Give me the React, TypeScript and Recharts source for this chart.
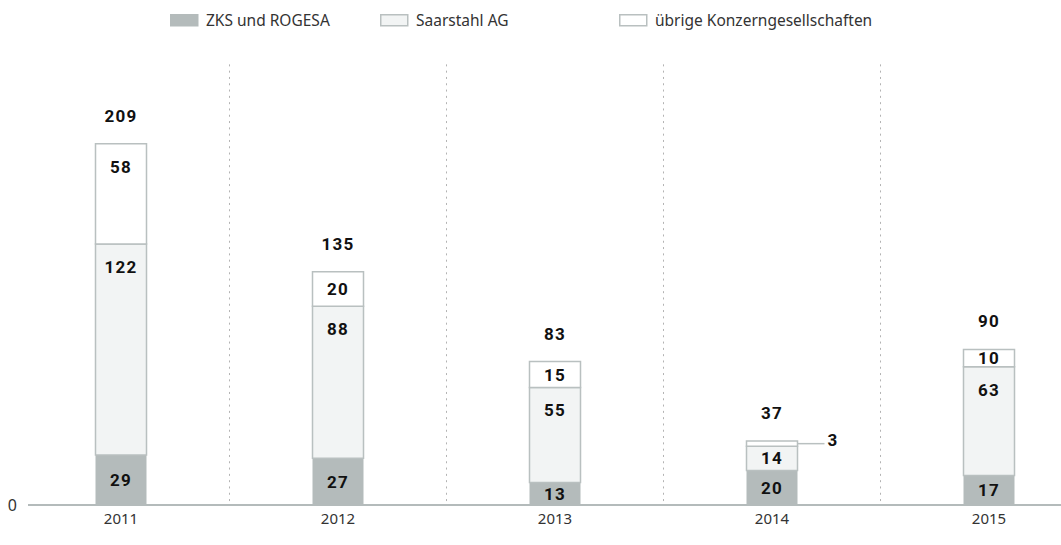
import React from "react";
import { BarChart, Bar, XAxis, YAxis, LabelList, ReferenceLine } from "recharts";

const years = ["2011", "2012", "2013", "2014", "2015"];
const zksRogesa = [29, 27, 13, 20, 17];
const saarstahl = [122, 88, 55, 14, 63];
const uebrige = [58, 20, 15, 3, 10];
const yTicks = [0];
const separators = [0.5, 1.5, 2.5, 3.5];

const seriesNames = ["ZKS und ROGESA", "Saarstahl AG", "übrige Konzerngesellschaften"];

const data = years.map((year, i) => ({
  idx: i,
  year,
  zks: zksRogesa[i],
  saar: saarstahl[i],
  ueb: uebrige[i],
}));

const GRAY = "#b4bbbb";
const LIGHT = "#f2f4f4";
const STROKE = "#b9c0c0";
const NUM_FONT = "Roboto, 'DejaVu Sans', sans-serif";
const TXT_FONT = "'Noto Sans', 'DejaVu Sans', sans-serif";

const numStyle: React.CSSProperties = {
  fontFamily: NUM_FONT,
  fontWeight: 700,
  fontSize: 17,
  letterSpacing: 1.2,
};

function SegLabel(props: any) {
  const { x, y, width, height, value } = props;
  if (value === undefined || value === null) return null;
  const cx = Number(x) + Number(width) / 2;
  const h = Number(height);
  if (h < 12) {
    const ly = Number(y) + h / 2;
    const x0 = Number(x) + Number(width);
    return (
      <g>
        <line x1={x0} y1={ly} x2={x0 + 27} y2={ly} stroke={STROKE} strokeWidth={1.5} />
        <text x={x0 + 30} y={ly - 4} dominantBaseline="central" fill="#111" style={numStyle}>
          {value}
        </text>
      </g>
    );
  }
  const ty = h > 60 ? Number(y) + 23 : Number(y) + h / 2;
  return (
    <text x={cx} y={ty} textAnchor="middle" dominantBaseline="central" fill="#111" style={numStyle}>
      {value}
    </text>
  );
}

function TotalLabel(props: any) {
  const { x, y, width, index } = props;
  const total = zksRogesa[index] + saarstahl[index] + uebrige[index];
  return (
    <text
      x={Number(x) + Number(width) / 2}
      y={Number(y) - 28}
      textAnchor="middle"
      dominantBaseline="central"
      fill="#111"
      style={numStyle}
    >
      {total}
    </text>
  );
}

function LegendBox() {
  const items = [
    { name: seriesNames[0], fill: GRAY, stroke: GRAY, w: 210 },
    { name: seriesNames[1], fill: LIGHT, stroke: STROKE, w: 239 },
    { name: seriesNames[2], fill: "#ffffff", stroke: STROKE, w: 290 },
  ];
  return (
    <div
      style={{
        position: "absolute",
        left: 170,
        top: 10,
        display: "flex",
        fontFamily: TXT_FONT,
        fontSize: 15.5,
        color: "#333",
        lineHeight: "20px",
      }}
    >
      {items.map((it) => (
        <div key={it.name} style={{ width: it.w, display: "flex", alignItems: "center" }}>
          <svg width={29} height={13} style={{ marginRight: 7 }}>
            <rect x={0.75} y={0.75} width={27} height={11} fill={it.fill} stroke={it.stroke} strokeWidth={1.5} />
          </svg>
          <span>{it.name}</span>
        </div>
      ))}
    </div>
  );
}

export default function App() {
  return (
    <div style={{ position: "absolute", left: 0, top: 0, width: 1061, height: 545, background: "#fff" }}>
      <LegendBox />
      <BarChart
        width={1061}
        height={545}
        data={data}
        margin={{ top: 73, right: 0, left: 0, bottom: 0 }}
        barSize={51}
      >
        <XAxis
          dataKey="year"
          height={40}
          padding={{ left: -15.5, right: -36.5 }}
          tickLine={false}
          tickSize={0}
          tickMargin={8}
          axisLine={{ stroke: GRAY, strokeWidth: 2 }}
          tick={{ fill: "#333", fontSize: 15, fontFamily: TXT_FONT }}
        />
        <XAxis
          xAxisId="g"
          dataKey="idx"
          type="number"
          domain={[-0.5, 4.5]}
          padding={{ left: -15.5, right: -36.5 }}
          allowDataOverflow
          hide
        />
        <YAxis
          width={28}
          domain={[0, 250]}
          ticks={yTicks}
          tickLine={false}
          tickSize={0}
          tickMargin={11}
          axisLine={false}
          tick={{ fill: "#333", fontSize: 16, fontFamily: TXT_FONT }}
        />
        {separators.map((s) => (
          <ReferenceLine
            key={s}
            xAxisId="g"
            segment={[
              { x: s, y: 255 },
              { x: s, y: 0 },
            ]}
            ifOverflow="visible"
            stroke="#b3b3b3"
            strokeWidth={1}
            strokeDasharray="2 4.3"
          />
        ))}
        <Bar dataKey="zks" stackId="a" fill={GRAY} isAnimationActive={false}>
          <LabelList dataKey="zks" content={SegLabel} />
        </Bar>
        <Bar dataKey="saar" stackId="a" fill={LIGHT} stroke={STROKE} strokeWidth={1.5} isAnimationActive={false}>
          <LabelList dataKey="saar" content={SegLabel} />
        </Bar>
        <Bar dataKey="ueb" stackId="a" fill="#ffffff" stroke={STROKE} strokeWidth={1.5} isAnimationActive={false}>
          <LabelList dataKey="ueb" content={SegLabel} />
          <LabelList dataKey="ueb" content={TotalLabel} />
        </Bar>
      </BarChart>
    </div>
  );
}
